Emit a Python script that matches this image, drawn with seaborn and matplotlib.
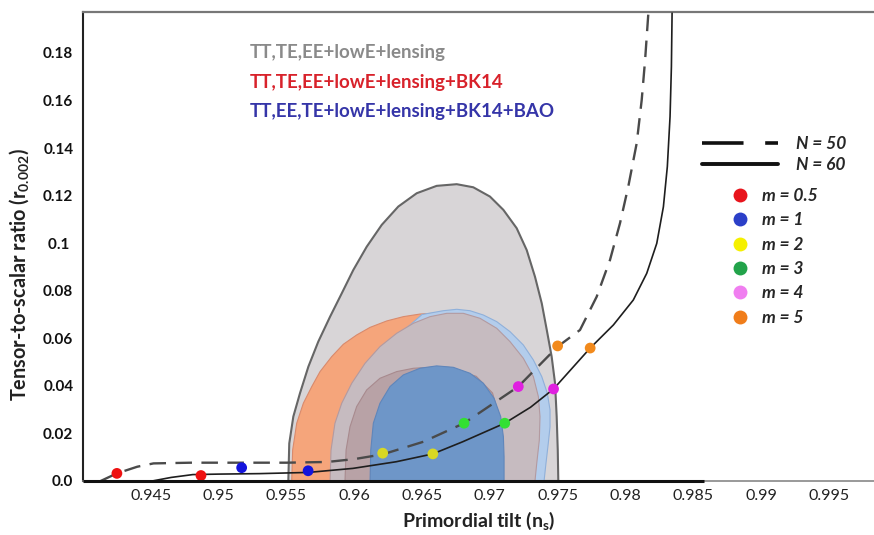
import pandas as pd
import seaborn as sns
import matplotlib.pyplot as plt
from matplotlib.lines import Line2D

# inflation trajectories (ns, r)
n50_ns = [0.9413, 0.9425, 0.9440, 0.9452, 0.9480, 0.9517, 0.9550, 0.9580, 0.9600, 0.9621,
          0.9651, 0.9681, 0.9721, 0.9750, 0.97665, 0.97788, 0.97886, 0.97960, 0.98021,
          0.98083, 0.98120, 0.98145, 0.98169]
n50_r = [0.0, 0.0032, 0.0060, 0.0074, 0.0077, 0.0077, 0.0077, 0.0080, 0.0092, 0.0112,
         0.0165, 0.0243, 0.0397, 0.0565, 0.0635, 0.0775, 0.0929, 0.1084, 0.1238,
         0.1420, 0.1602, 0.1770, 0.1967]
n60_ns = [0.9451, 0.9465, 0.9481, 0.9500, 0.9530, 0.9566, 0.9599, 0.9631, 0.9658, 0.9680,
          0.9711, 0.9730, 0.9747, 0.9774, 0.97911, 0.98058, 0.98157, 0.98231, 0.98280,
          0.98309, 0.98329, 0.98339, 0.98344]
n60_r = [0.0, 0.0015, 0.0027, 0.0029, 0.0031, 0.0036, 0.0053, 0.0081, 0.0114, 0.0165,
         0.0243, 0.0310, 0.0387, 0.0559, 0.0656, 0.0761, 0.0873, 0.0999, 0.1153,
         0.1322, 0.1532, 0.1742, 0.1967]

# model points for each m (first N=50, then N=60)
m_labels = ["m = 0.5", "m = 1", "m = 2", "m = 3", "m = 4", "m = 5"]
pts_n50_ns = [0.9425, 0.9517, 0.9621, 0.9681, 0.9721, 0.9750]
pts_n50_r = [0.0032, 0.0056, 0.0117, 0.0243, 0.0397, 0.0568]
pts_n60_ns = [0.9487, 0.9566, 0.9658, 0.9711, 0.9747, 0.9774]
pts_n60_r = [0.0023, 0.0043, 0.0114, 0.0243, 0.0387, 0.0559]
dot_colors = ["#ee1111", "#1414dd", "#d8d824", "#33e033", "#e020e0", "#f28a1c"]
legend_dot_colors = ["#e8141c", "#2b3fc8", "#f5f000", "#22a34a", "#f07ef0", "#f07d1a"]

# Planck contours, outlines
gray_ns = [0.95514, 0.95521, 0.95551, 0.95600, 0.95662, 0.95735, 0.95822, 0.95908, 0.95993,
           0.96092, 0.96203, 0.96325, 0.96461, 0.96608, 0.96756, 0.96878, 0.97001, 0.97100,
           0.97198, 0.97272, 0.97333, 0.97383, 0.97420, 0.97456, 0.97481, 0.97493, 0.97501,
           0.97505]
gray_r = [0.0, 0.0158, 0.0271, 0.0369, 0.0481, 0.0586, 0.0691, 0.0789, 0.0887,
          0.0985, 0.1077, 0.1154, 0.1210, 0.1241, 0.1248, 0.1235, 0.1196, 0.1140,
          0.1063, 0.0971, 0.0859, 0.0747, 0.0635, 0.0523, 0.0411, 0.0271, 0.0130,
          0.0]
bk_ns = [0.95539, 0.95546, 0.95576, 0.95625, 0.95687, 0.95748, 0.95834, 0.95920, 0.96018,
         0.96117, 0.96240, 0.96362, 0.96485, 0.96608, 0.96706, 0.96854, 0.97100, 0.97250,
         0.97330, 0.97330]
bk_r = [0.0, 0.0130, 0.0243, 0.0327, 0.0397, 0.0460, 0.0523, 0.0575, 0.0614,
        0.0646, 0.0673, 0.0691, 0.0702, 0.0706, 0.0709, 0.0706, 0.0600, 0.0450,
        0.0250, 0.0]
bao_ns = [0.95950, 0.96000, 0.96100, 0.96300, 0.96500, 0.96657, 0.96756, 0.96854, 0.96952,
          0.97051, 0.97149, 0.97247, 0.97321, 0.97383, 0.97424, 0.97444, 0.97444, 0.97431,
          0.97414, 0.97400]
bao_r = [0.0, 0.0250, 0.0450, 0.0600, 0.0700, 0.0716, 0.0722, 0.0716, 0.0698,
         0.0670, 0.0628, 0.0572, 0.0509, 0.0439, 0.0369, 0.0299, 0.0228, 0.0158,
         0.0074, 0.0]
mid_ns = [0.95822, 0.95829, 0.95858, 0.95908, 0.95982, 0.96080, 0.96190, 0.96313, 0.96436,
          0.96559, 0.96682, 0.96805, 0.96928, 0.97051, 0.97149, 0.97247, 0.97321, 0.97358,
          0.97370, 0.97365, 0.97346, 0.97333]
mid_r = [0.0, 0.0130, 0.0243, 0.0327, 0.0411, 0.0495, 0.0565, 0.0621, 0.0663,
         0.0691, 0.0705, 0.0705, 0.0684, 0.0642, 0.0586, 0.0516, 0.0439, 0.0355,
         0.0271, 0.0172, 0.0074, 0.0]
bk68_ns = [0.95932, 0.95940, 0.95969, 0.96018, 0.96092, 0.96190, 0.96313, 0.96436, 0.96559,
           0.96700, 0.96900, 0.97020, 0.97080, 0.97080]
bk68_r = [0.0, 0.0130, 0.0228, 0.0313, 0.0383, 0.0432, 0.0460, 0.0474, 0.0478,
          0.0478, 0.0440, 0.0370, 0.0250, 0.0]
bao68_ns = [0.96117, 0.96122, 0.96141, 0.96190, 0.96264, 0.96362, 0.96485, 0.96608, 0.96731,
            0.96854, 0.96952, 0.97031, 0.97080, 0.97100, 0.97105, 0.97105]
bao68_r = [0.0, 0.0130, 0.0243, 0.0327, 0.0397, 0.0446, 0.0474, 0.0484, 0.0478,
           0.0453, 0.0411, 0.0348, 0.0271, 0.0186, 0.0102, 0.0]

x_ticks = [0.945, 0.95, 0.955, 0.96, 0.965, 0.97, 0.975, 0.98, 0.985, 0.99, 0.995]
x_tick_labels = ["0.945", "0.95", "0.955", "0.96", "0.965", "0.97", "0.975", "0.98", "0.985", "0.99", "0.995"]
y_ticks = [0.0, 0.02, 0.04, 0.06, 0.08, 0.1, 0.12, 0.14, 0.16, 0.18]
y_tick_labels = ["0.0", "0.02", "0.04", "0.06", "0.08", "0.1 ", "0.12", "0.14", "0.16", "0.18"]
axis_black_end = 0.9858

sns.set_style("white")
plt.rcParams["font.family"] = ["Lato", "DejaVu Sans"]
plt.rcParams["mathtext.fontset"] = "custom"
plt.rcParams["mathtext.rm"] = "Lato"
plt.rcParams["mathtext.it"] = "Lato:italic"
plt.rcParams["mathtext.bf"] = "Lato:bold"

fig = plt.figure(figsize=(8.74, 5.35), dpi=100)
ax = fig.add_axes([83 / 874, 54 / 535, 791 / 874, 469 / 535])

# filled contours
ax.fill(gray_ns, gray_r, fc="#d8d5d7", ec="#666666", lw=1.5, zorder=1)
ax.fill(bk_ns, bk_r, fc="#f5a57b", ec="#d98a6c", lw=0.8, zorder=2)
ax.fill(bao_ns, bao_r, fc="#b3cdec", ec="#8fb0da", lw=0.8, zorder=3)
ax.fill(mid_ns, mid_r, fc="#c6bbc0", ec="#b39aa0", lw=0.8, zorder=4)
ax.fill(bk68_ns, bk68_r, fc="#b8a2a6", ec="#a88a8e", lw=0.8, zorder=5)
ax.fill(bao68_ns, bao68_r, fc="#6e96c8", ec="#5f86bb", lw=0.8, zorder=6)

# trajectories
sns.lineplot(x=n50_ns, y=n50_r, sort=False, estimator=None, ax=ax, color="#4a4a4a",
             lw=1.7, linestyle=(0, (7, 4)), zorder=7)
sns.lineplot(x=n60_ns, y=n60_r, sort=False, estimator=None, ax=ax, color="#1e1e1e",
             lw=1.2, zorder=7)

pts = pd.DataFrame({
    "ns": pts_n50_ns + pts_n60_ns,
    "r": pts_n50_r + pts_n60_r,
    "m": m_labels + m_labels,
})
sns.scatterplot(data=pts, x="ns", y="r", hue="m", palette=dict(zip(m_labels, dot_colors)),
                s=60, edgecolor="none", legend=False, ax=ax, zorder=8)

# axes styling
ax.set_xlim(0.94, 0.99833)
ax.set_ylim(0, 0.1972)
ax.set_xticks(x_ticks, x_tick_labels)
ax.set_yticks(y_ticks, y_tick_labels)
ax.tick_params(axis="x", direction="in", length=8, width=1.1, color="#222222",
               labelsize=11.5, pad=6, labelcolor="#222222")
ax.tick_params(axis="y", direction="out", length=5, width=1.1, color="#222222",
               labelsize=11, pad=2, labelcolor="#111111")
for lbl in ax.get_yticklabels():
    lbl.set_fontweight("bold")
ax.spines["right"].set_visible(False)
ax.spines["top"].set_color("#777777")
ax.spines["top"].set_linewidth(1.6)
ax.spines["left"].set_color("#222222")
ax.spines["left"].set_linewidth(1.5)
ax.spines["bottom"].set_color("#888888")
ax.spines["bottom"].set_linewidth(1.2)
ax.hlines(0, 0.94, axis_black_end, color="#111111", lw=2.2, zorder=9, clip_on=False)

ax.set_xlabel(r"Primordial tilt ($\mathbf{n_s}$)", fontsize=14, fontweight="bold",
              color="#222222", labelpad=5)
ax.set_ylabel(r"Tensor-to-scalar ratio ($\mathbf{r_{0.002}}$)", fontsize=14.3,
              fontweight="bold", color="#222222")
ax.yaxis.set_label_coords(-0.066, 0.44)

# dataset labels
ax.text(0.2111, 0.9147, "TT,TE,EE+lowE+lensing", transform=ax.transAxes, color="#8a8a8a",
        fontsize=13.5, fontweight="bold", va="center")
ax.text(0.2111, 0.8507, "TT,TE,EE+lowE+lensing+BK14", transform=ax.transAxes, color="#d8222b",
        fontsize=13.5, fontweight="bold", va="center")
ax.text(0.2111, 0.7868, "TT,EE,TE+lowE+lensing+BK14+BAO", transform=ax.transAxes,
        color="#3535a8", fontsize=13.5, fontweight="bold", va="center")

# legends
line_handles = [Line2D([], [], color="#111111", lw=2.6, ls=(0, (11.5, 6))),
                Line2D([], [], color="#111111", lw=2.8)]
leg1 = ax.legend(line_handles, ["N = 50", "N = 60"], loc="upper left",
                 bbox_to_anchor=(0.7826, 0.7356), frameon=False, borderpad=0, borderaxespad=0,
                 handlelength=4.4, handletextpad=1.0, labelspacing=0.3,
                 prop=dict(weight="bold", style="italic", size=12.5))
ax.add_artist(leg1)
dot_handles = [Line2D([], [], ls="none", marker="o", ms=10, mfc=c, mec="none")
               for c in legend_dot_colors]
ax.legend(dot_handles, m_labels, loc="upper left", bbox_to_anchor=(0.8205, 0.6247),
          frameon=False, borderpad=0, borderaxespad=0, handlelength=0.9, handletextpad=0.85,
          labelspacing=0.48, prop=dict(weight="bold", style="italic", size=12.5))

fig.savefig("out.png", dpi=100)
